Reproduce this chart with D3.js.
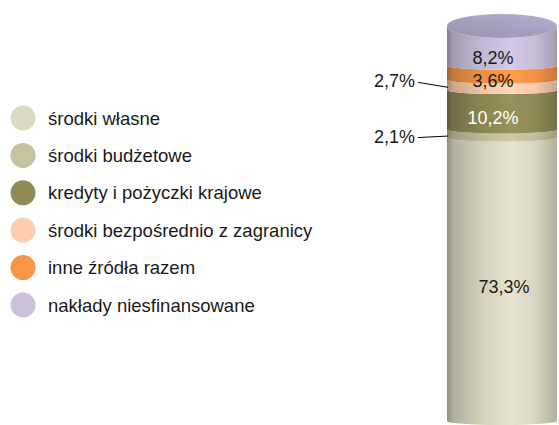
<!DOCTYPE html>
<html>
<head>
<meta charset="utf-8">
<script src="https://cdn.jsdelivr.net/npm/d3@7"></script>
<style>
  html, body { margin: 0; padding: 0; background: #ffffff; }
  svg { display: block; font-family: "Liberation Sans", Arial, sans-serif; }
</style>
</head>
<body>
<svg id="chart" width="559" height="425"></svg>
<script>
// ---- data ----
const categories = [
  "środki własne",
  "środki budżetowe",
  "kredyty i pożyczki krajowe",
  "środki bezpośrednio z zagranicy",
  "inne źródła razem",
  "nakłady niesfinansowane"
];
const values = [73.3, 2.1, 10.2, 2.7, 3.6, 8.2];
const valueLabels = ["73,3%", "2,1%", "10,2%", "2,7%", "3,6%", "8,2%"];
const colors = ["#dddac4", "#c6c19e", "#918b58", "#fdcfae", "#f79646", "#cbc1dc"];
const labelColors = ["#1a1a1a", "#1a1a1a", "#ffffff", "#1a1a1a", "#1a1a1a", "#1a1a1a"];
const barName = ["nakłady"];

// ---- layout ----
const svg = d3.select("#chart");
const defs = svg.append("defs");

const total = d3.sum(values);
const y = d3.scaleLinear().domain([0, total]).range([425, 38]);
const x = d3.scaleBand().domain(barName).range([447, 557]).padding(0);
const x0 = x(barName[0]), x1 = x0 + x.bandwidth();
const cx = (x0 + x1) / 2, rx = x.bandwidth() / 2;
const k = 4;        // curvature of segment boundaries
const topRy = 12;   // top face ellipse radius

const ends = d3.cumsum(values);
const segs = values.map((v, i) => ({
  i, v, y0: ends[i] - v, y1: ends[i]
}));

// gradients
segs.forEach(s => {
  const c = colors[s.i];
  const g = defs.append("linearGradient").attr("id", "g" + s.i)
    .attr("x1", "0%").attr("x2", "100%").attr("y1", "0%").attr("y2", "0%");
  const stops = [
    [0, d3.color(c).darker(1.2)],
    [0.06, d3.color(c).darker(0.6)],
    [0.3, d3.color(c).darker(0.15)],
    [0.58, d3.color(c).brighter(0.12)],
    [0.8, d3.color(c).darker(0.05)],
    [1, d3.color(c).darker(0.6)]
  ];
  stops.forEach(([o, col]) => g.append("stop").attr("offset", o).attr("stop-color", col.formatHex()));
});
const tg = defs.append("linearGradient").attr("id", "gtop")
  .attr("x1", "0%").attr("x2", "100%").attr("y1", "100%").attr("y2", "0%");
tg.append("stop").attr("offset", 0).attr("stop-color", "#9a92b0");
tg.append("stop").attr("offset", 0.6).attr("stop-color", "#aaa2c2");
tg.append("stop").attr("offset", 1).attr("stop-color", "#b8b0cf");

// cylinder side segments
const last = segs.length - 1;
function segPath(s) {
  const yb = y(s.y0), yt = y(s.y1);
  const kt = s.i === last ? topRy : k;
  return `M${x0},${yt - kt} L${x0},${yb - k} A${rx},${k} 0 0 0 ${x1},${yb - k} ` +
         `L${x1},${yt - kt} A${rx},${kt} 0 0 1 ${x0},${yt - kt} Z`;
}
svg.append("g").selectAll("path").data(segs).join("path")
  .attr("d", segPath)
  .attr("fill", d => `url(#g${d.i})`);

// top face
svg.append("ellipse")
  .attr("cx", cx).attr("cy", y(total) - topRy)
  .attr("rx", rx).attr("ry", topRy)
  .attr("fill", "url(#gtop)");

// labels
const minInside = 12;
const outsideDy = { 3: -7.5, 1: -1 };
segs.forEach(s => {
  const yb = y(s.y0), yt = y(s.y1), mid = (yb + yt) / 2;
  if (yb - yt >= minInside) {
    svg.append("text")
      .attr("x", cx + (s.v > 50 ? 2 : -9))
      .attr("y", mid + 4)
      .attr("text-anchor", "middle")
      .attr("dominant-baseline", "central")
      .attr("font-size", 18)
      .attr("fill", labelColors[s.i])
      .text(valueLabels[s.i]);
  } else {
    const ly = mid + (outsideDy[s.i] || 0);
    svg.append("line")
      .attr("x1", 418).attr("y1", ly + 1)
      .attr("x2", x0 + 1).attr("y2", mid - 1.5)
      .attr("stroke", "#000").attr("stroke-width", 1);
    svg.append("text")
      .attr("x", 415).attr("y", ly)
      .attr("text-anchor", "end")
      .attr("dominant-baseline", "central")
      .attr("font-size", 18)
      .attr("fill", "#1a1a1a")
      .text(valueLabels[s.i]);
  }
});

// legend
const legY = d3.scalePoint().domain(categories).range([118, 305]);
const leg = svg.append("g").selectAll("g").data(categories).join("g")
  .attr("transform", d => `translate(0,${legY(d)})`);
leg.append("circle").attr("cx", 23).attr("cy", 0).attr("r", 12.5)
  .attr("fill", (d, i) => colors[i]);
leg.append("text").attr("x", 48).attr("y", 0)
  .attr("dominant-baseline", "central")
  .attr("font-size", 18.5)
  .attr("fill", "#1a1a1a")
  .text(d => d);
</script>
</body>
</html>
